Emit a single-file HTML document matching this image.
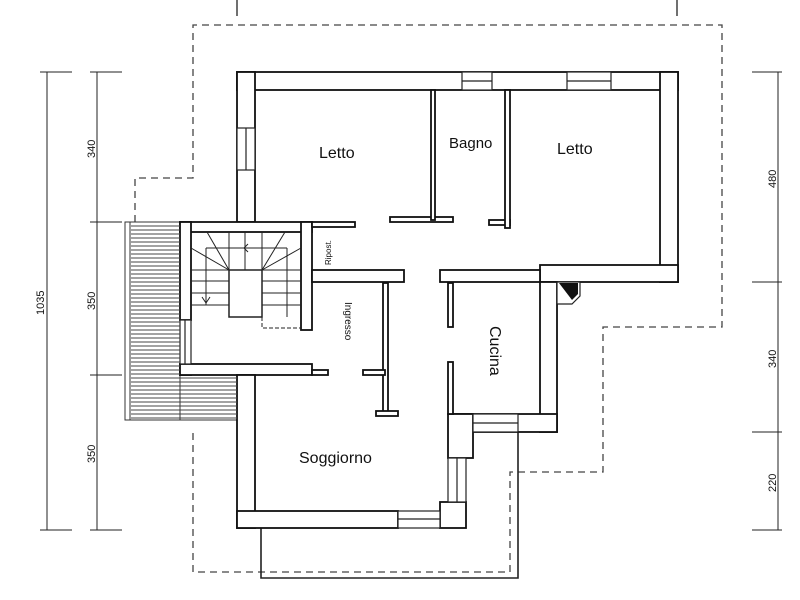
<!DOCTYPE html>
<html><head><style>body{margin:0;background:#fff}svg{display:block}text{font-family:"Liberation Sans",sans-serif;fill:#111}</style></head><body>
<svg width="800" height="600" viewBox="0 0 800 600">
<polyline points="135,222 135,178 193,178 193,25 722,25 722,327 603,327 603,472 510,472 510,572 193,572 193,430" fill="none" stroke="#444" stroke-width="1.3" stroke-dasharray="7,5"/>
<line x1="237" y1="0" x2="237" y2="16" stroke="#222" stroke-width="1.3"/>
<line x1="677" y1="0" x2="677" y2="16" stroke="#222" stroke-width="1.3"/>
<g stroke="#333" stroke-width="1">
<rect x="125" y="222" width="55" height="198" fill="#fff"/>
<rect x="180" y="375" width="57" height="45" fill="#fff"/>
<line x1="130" y1="222" x2="130" y2="420"/>
</g>
<polyline points="261,528 261,578 518,578 518,432" fill="none" stroke="#222" stroke-width="1.6"/>
<g fill="#fff" stroke="#111" stroke-width="1.8">
<rect x="237" y="72" width="441" height="18"/>
<rect x="660" y="72" width="18" height="210"/>
<rect x="540" y="265" width="138" height="17"/>
<rect x="440" y="270" width="100" height="12"/>
<rect x="540" y="282" width="17" height="150"/>
<rect x="450" y="414" width="107" height="18"/>
<rect x="237" y="72" width="18" height="150"/>
<rect x="180" y="222" width="132" height="10"/>
<rect x="180" y="222" width="11" height="98"/>
<rect x="180" y="364" width="11" height="11"/>
<rect x="180" y="364" width="132" height="11"/>
<rect x="301" y="222" width="11" height="108"/>
<rect x="237" y="375" width="18" height="153"/>
<rect x="237" y="511" width="161" height="17"/>
<rect x="440" y="502" width="26" height="26"/>
<rect x="448" y="414" width="25" height="44"/>
<rect x="312" y="222" width="43" height="5"/>
<rect x="312" y="270" width="92" height="12"/>
<rect x="390" y="217" width="63" height="5"/>
<rect x="431" y="90" width="4" height="130"/>
<rect x="489" y="220" width="21" height="5"/>
<rect x="505" y="90" width="5" height="138"/>
<rect x="383" y="283" width="5" height="130"/>
<rect x="376" y="411" width="22" height="5"/>
<rect x="363" y="370" width="22" height="5"/>
<rect x="312" y="370" width="16" height="5"/>
<rect x="448" y="283" width="5" height="44"/>
<rect x="448" y="362" width="5" height="52"/>
</g>
<g fill="#fff" stroke="#222" stroke-width="1.2">
<rect x="462" y="72" width="30" height="18"/><line x1="462" y1="81" x2="492" y2="81"/>
<rect x="567" y="72" width="44" height="18"/><line x1="567" y1="81" x2="611" y2="81"/>
<rect x="237" y="128" width="18" height="42"/><line x1="246" y1="128" x2="246" y2="170"/>
<rect x="180" y="320" width="11" height="44"/><line x1="185" y1="320" x2="185" y2="364"/>
<rect x="473" y="414" width="45" height="18"/><line x1="473" y1="423" x2="518" y2="423"/>
<rect x="448" y="458" width="18" height="44"/><line x1="457" y1="458" x2="457" y2="502"/>
<rect x="398" y="511" width="42" height="17"/><line x1="398" y1="519" x2="440" y2="519"/>
</g>
<polygon points="557,282 580,282 580,296 572,304 557,304" fill="#fff" stroke="#222" stroke-width="1.2"/>
<polygon points="559,283 578,283 578,294 572,300" fill="#111"/>
<g stroke="#222" stroke-width="1" fill="none">
<rect x="229" y="270" width="33" height="47" stroke-width="1.5"/>
<line x1="191" y1="270" x2="301" y2="270"/>
<line x1="191" y1="281" x2="229" y2="281"/><line x1="262" y1="281" x2="301" y2="281"/>
<line x1="191" y1="293" x2="229" y2="293"/><line x1="262" y1="293" x2="301" y2="293"/>
<line x1="191" y1="305" x2="229" y2="305"/><line x1="262" y1="305" x2="301" y2="305"/>
<line x1="206" y1="248" x2="206" y2="305"/><line x1="287" y1="248" x2="287" y2="317"/>
<line x1="206" y1="248" x2="287" y2="248"/>
<line x1="229" y1="232" x2="229" y2="270"/><line x1="245" y1="232" x2="245" y2="270"/><line x1="262" y1="232" x2="262" y2="270"/>
<line x1="191" y1="248" x2="229" y2="270"/><line x1="207" y1="232" x2="229" y2="270"/>
<line x1="301" y1="248" x2="262" y2="270"/><line x1="285" y1="232" x2="262" y2="270"/>
<polyline points="248,244 244,248 248,252"/>
<polyline points="202,297 206,303 210,297"/>
<polyline points="262,317 262,328 301,328" stroke-dasharray="4,2"/>
</g>
<g font-size="16">
<text x="319" y="158">Letto</text>
<text x="557" y="154">Letto</text>
<text x="449" y="148" font-size="15">Bagno</text>
<text x="299" y="463">Soggiorno</text>
<text transform="translate(490,326) rotate(90)" font-size="16">Cucina</text>
<text transform="translate(345,302) rotate(90)" font-size="10">Ingresso</text>
<text transform="translate(331,265) rotate(-90)" font-size="8">Ripost.</text>
</g>
<g stroke="#222" stroke-width="1">
<line x1="47" y1="72" x2="47" y2="530"/>
<line x1="40" y1="72" x2="72" y2="72"/><line x1="40" y1="530" x2="72" y2="530"/>
<line x1="97" y1="72" x2="97" y2="530"/>
<line x1="90" y1="72" x2="122" y2="72"/><line x1="90" y1="222" x2="122" y2="222"/>
<line x1="90" y1="375" x2="122" y2="375"/><line x1="90" y1="530" x2="122" y2="530"/>
<line x1="778" y1="72" x2="778" y2="530"/>
<line x1="752" y1="72" x2="782" y2="72"/><line x1="752" y1="282" x2="782" y2="282"/>
<line x1="752" y1="432" x2="782" y2="432"/><line x1="752" y1="530" x2="782" y2="530"/>
</g>
<g font-size="11">
<text transform="translate(44,315) rotate(-90)">1035</text>
<text transform="translate(95,158) rotate(-90)">340</text>
<text transform="translate(95,310) rotate(-90)">350</text>
<text transform="translate(95,463) rotate(-90)">350</text>
<text transform="translate(776,188) rotate(-90)">480</text>
<text transform="translate(776,368) rotate(-90)">340</text>
<text transform="translate(776,492) rotate(-90)">220</text>
</g>
<g stroke="#444" stroke-width="0.9">
<path d="M131 226H180M131 230H180M131 234H180M131 238H180M131 242H180M131 246H180M131 250H180M131 254H180M131 258H180M131 262H180M131 266H180M131 270H180M131 274H180M131 278H180M131 282H180M131 286H180M131 290H180M131 294H180M131 298H180M131 302H180M131 306H180M131 310H180M131 314H180M131 318H180M131 322H180M131 326H180M131 330H180M131 334H180M131 338H180M131 342H180M131 346H180M131 350H180M131 354H180M131 358H180M131 362H180M131 366H180M131 370H180M131 374H180M131 378H237M131 382H237M131 386H237M131 390H237M131 394H237M131 398H237M131 402H237M131 406H237M131 410H237M131 414H237M131 418H237"/>
</g>
</svg>
</body></html>
